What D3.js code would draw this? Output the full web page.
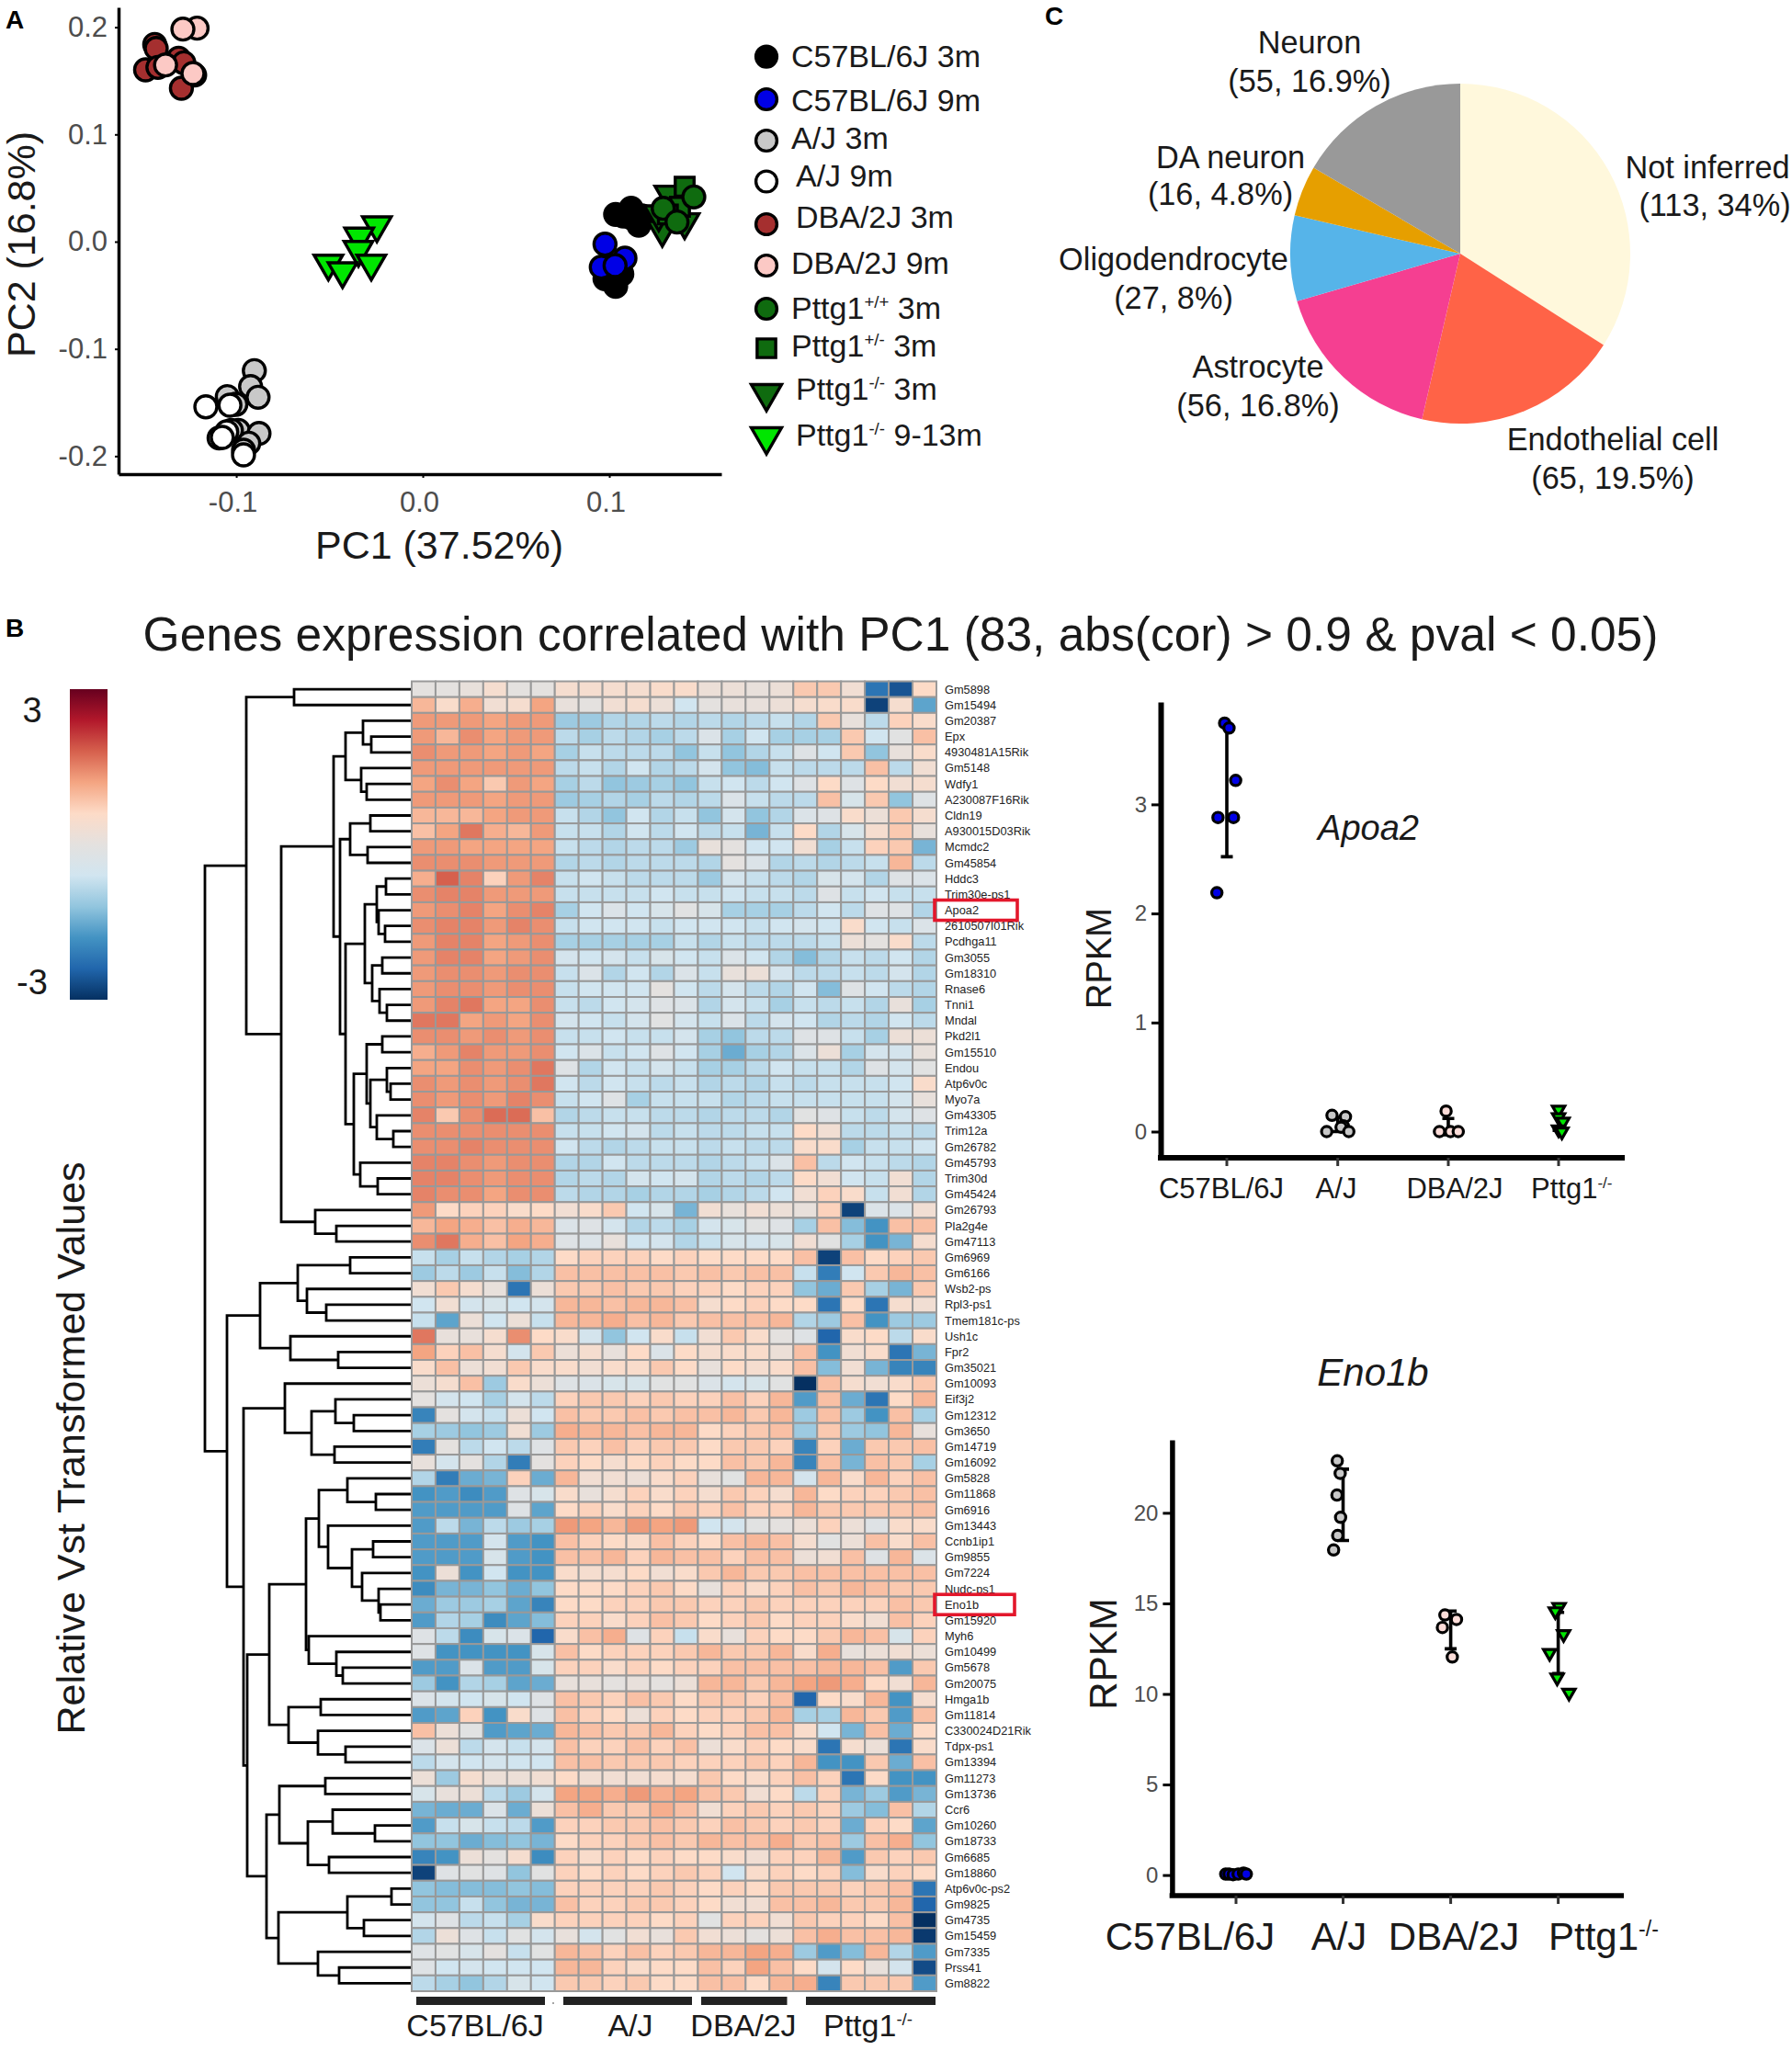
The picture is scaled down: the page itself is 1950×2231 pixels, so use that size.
<!DOCTYPE html>
<html>
<head>
<meta charset="utf-8">
<script src="https://cdn.jsdelivr.net/npm/d3@7"></script>
<style>
    html, body { margin: 0; padding: 0; background: #fff; }
    svg text { font-family: "Liberation Sans", Arial, sans-serif; fill: #1a1a1a; }
    .tick text { fill: #4d4d4d; }
</style>
</head>
<body>
<script>
// panel A: PCA points, one array per legend group
const groupNames = ['C57BL/6J 3m', 'C57BL/6J 9m', 'A/J 3m', 'A/J 9m', 'DBA/2J 3m', 'DBA/2J 9m', 'Pttg1|+/+| 3m', 'Pttg1|+/-| 3m', 'Pttg1|-/-| 3m', 'Pttg1|-/-| 9-13m'];
const groupFill = ['#000000', '#0000e6', '#c8c8c8', '#ffffff', '#a52f2f', '#fcc9c5', '#0f6b0f', '#0f6b0f', '#0f6b0f', '#00e600'];
const groupShape = ['c', 'c', 'c', 'c', 'c', 'c', 'c', 's', 't', 't'];
const pcaC57_3m = [[.1034, .0254], [.1075, .0240], [.1117, .0311], [.1117, .0225], [.1158, .0154], [.1174, .0240], [.0977, -.0345], [.1034, -.0417], [.1067, -.0302]];
const pcaC57_9m = [[.0977, -.0023], [.1084, -.0154], [.0957, -.0237], [.1031, -.0223]];
const pcaAJ_3m = [[-.0903, -.1203], [-.0923, -.1351], [-.0883, -.1451], [-.1048, -.1445], [-.1002, -.1517], [-.0989, -.1760], [-.1026, -.1760], [-.0878, -.1788], [-.0933, -.1880], [-.0961, -.1945]];
const pcaAJ_9m = [[-.1163, -.1540], [-.1034, -.1525], [-.1051, -.1774], [-.1092, -.1831], [-.1075, -.1825], [-.0961, -.1988]];
const pcaDBA_3m = [[-.1437, .1839], [-.1429, .1802], [-.1309, .1711], [-.1281, .1668], [-.1486, .1602], [-.1420, .1625], [-.1223, .1554], [-.1294, .1431]];
const pcaDBA_9m = [[-.1210, .1991], [-.1286, .1982], [-.1379, .1648], [-.1232, .1568]];
const pcaWT_3m = [[.1453, .0417], [.1289, .0311], [.1363, .0183]];
const pcaHet_3m = [[.1404, .0512], [.1379, .0326], [.1314, .0254]];
const pcaKO_3m = [[.1284, .0111], [.1322, .0440], [.1404, .0183], [.1265, .0257]];
const pcaKO_9m = [[-.0246, .0154], [-.0341, .0049], [-.0345, -.0075], [-.0506, -.0203], [-.0430, -.0274], [-.0276, -.0203]];
const pcaDrawOrder = [pcaC57_3m, pcaC57_9m, pcaAJ_3m, pcaAJ_9m, pcaDBA_3m, pcaDBA_9m, pcaKO_3m, pcaHet_3m, pcaWT_3m, pcaKO_9m];
const pcaDrawGroup = [0, 1, 2, 3, 4, 5, 8, 7, 6, 9];

// panel C: pie
const pieNames = ['Not inferred', 'Endothelial cell', 'Astrocyte', 'Oligodendrocyte', 'DA neuron', 'Neuron'];
const pieCounts = [113, 65, 56, 27, 16, 55];
const piePercent = ['34%', '19.5%', '16.8%', '8%', '4.8%', '16.9%'];
const pieColors = ['#fff8dc', '#ff6347', '#f53f91', '#56b4e9', '#e69f00', '#999999'];

// panel B: heatmap, values in tenths of a vst unit (-30..30)
const geneNames = ['Gm5898', 'Gm15494', 'Gm20387', 'Epx', '4930481A15Rik', 'Gm5148', 'Wdfy1', 'A230087F16Rik', 'Cldn19', 'A930015D03Rik', 'Mcmdc2', 'Gm45854', 'Hddc3', 'Trim30e-ps1', 'Apoa2', '2610507I01Rik', 'Pcdhga11', 'Gm3055', 'Gm18310', 'Rnase6', 'Tnni1', 'Mndal', 'Pkd2l1', 'Gm15510', 'Endou', 'Atp6v0c', 'Myo7a', 'Gm43305', 'Trim12a', 'Gm26782', 'Gm45793', 'Trim30d', 'Gm45424', 'Gm26793', 'Pla2g4e', 'Gm47113', 'Gm6969', 'Gm6166', 'Wsb2-ps', 'Rpl3-ps1', 'Tmem181c-ps', 'Ush1c', 'Fpr2', 'Gm35021', 'Gm10093', 'Eif3j2', 'Gm12312', 'Gm3650', 'Gm14719', 'Gm16092', 'Gm5828', 'Gm11868', 'Gm6916', 'Gm13443', 'Ccnb1ip1', 'Gm9855', 'Gm7224', 'Nudc-ps1', 'Eno1b', 'Gm15920', 'Myh6', 'Gm10499', 'Gm5678', 'Gm20075', 'Hmga1b', 'Gm11814', 'C330024D21Rik', 'Tdpx-ps1', 'Gm13394', 'Gm11273', 'Gm13736', 'Ccr6', 'Gm10260', 'Gm18733', 'Gm6685', 'Gm18860', 'Atp6v0c-ps2', 'Gm9825', 'Gm4735', 'Gm15459', 'Gm7335', 'Prss41', 'Gm8822'];
const heatRows = [
    [0, 0, 1, 4, 0, 0, 4, 4, 4, 4, 5, 5, 2, 2, 1, 2, 8, 8, 3, -22, -26, 6],
    [10, 5, 11, 3, 4, 12, 1, 0, 3, 4, 2, -6, 0, 1, 1, 2, 4, 5, 5, -28, 4, -16],
    [13, 13, 13, 12, 13, 13, -11, -11, -9, -9, -8, -9, -8, -9, -8, -7, -9, 8, 1, -8, 7, 5],
    [13, 10, 14, 12, 13, 13, -8, -10, -8, -9, -10, -8, -3, -10, -6, -10, -10, -10, 8, -6, -1, 9],
    [14, 13, 13, 12, 13, 12, -10, -7, -8, -8, -8, -12, -7, -12, -9, -7, -2, -6, 8, -12, 1, 5],
    [13, 13, 13, 13, 13, 13, -8, -7, -9, -6, -9, -8, -5, -12, -13, -7, -8, -8, -8, 9, -8, 3],
    [12, 14, 12, 8, 13, 12, -10, -8, -12, -11, -10, -12, -7, -6, -8, -6, -2, 6, -2, 6, 3, 4],
    [13, 13, 13, 12, 13, 13, -11, -10, -9, -10, -8, -9, -8, -3, -7, -8, -8, 9, -4, 8, -12, -2],
    [10, 10, 10, 12, 13, 13, -7, -9, -12, -6, -9, -7, -12, -5, -12, -9, -3, -2, 5, 2, 8, 4],
    [9, 12, 16, 11, 10, 13, -7, -7, -9, -6, -8, -6, -8, -7, -14, -7, 6, -9, -4, 4, 8, 1],
    [13, 13, 12, 12, 12, 12, -7, -8, -9, -8, -8, -11, 1, 0, -6, -6, 3, -10, -7, 7, 8, -14],
    [14, 14, 14, 13, 13, 13, -9, -8, -9, -8, -8, -8, -9, 0, -3, -9, -8, -9, -8, -7, 10, -8],
    [11, 18, 15, 7, 13, 15, -7, -6, -7, -8, -8, -8, -11, -5, -7, -8, -9, -4, -5, -9, -2, -3],
    [14, 15, 15, 13, 13, 13, -7, -7, -7, -7, -6, -7, -7, -6, -7, -7, -8, -2, -7, -6, -7, -7],
    [13, 14, 15, 12, 14, 15, -10, -6, -3, -6, -4, -1, -4, -10, -10, -10, -8, -6, -8, -2, -2, -9],
    [14, 15, 15, 13, 15, 14, -7, -6, -6, -6, -7, -6, -6, -6, -7, -6, -5, -6, 5, -6, -7, -3],
    [13, 15, 15, 12, 13, 14, -10, -10, -10, -10, -10, -7, -9, -7, -8, -8, -8, -7, 2, 0, 5, -8],
    [13, 15, 15, 12, 13, 14, -5, -6, -5, -7, -4, -6, -7, -3, -6, -9, -13, -9, -7, -8, -6, -9],
    [13, 14, 14, 13, 14, 14, -7, -3, -9, -6, -9, -3, -7, 1, 2, -5, -8, -8, -7, -8, -5, -9],
    [13, 14, 14, 13, 14, 14, -7, -6, -6, -6, 0, -6, -8, -5, -8, -9, -6, -13, -2, -6, -8, -9],
    [13, 15, 16, 12, 12, 14, -7, -8, -6, -5, -2, -3, -9, -5, -7, -10, -7, -8, -7, -9, 1, -10],
    [16, 16, 12, 13, 12, 14, -5, -6, -7, -5, -1, -5, -7, -3, -8, -5, -6, -9, -8, -9, -6, -8],
    [14, 14, 13, 14, 13, 14, -7, -7, -6, -7, -7, -5, -10, -12, -8, -8, -2, -2, -7, -10, 2, 2],
    [11, 13, 15, 13, 13, 14, -6, -3, -7, -6, -2, -6, -10, -15, -10, -9, -3, 2, -10, -5, -5, 1],
    [12, 12, 14, 13, 14, 16, -2, -9, -6, -7, -5, -7, -10, -10, -8, -6, -7, -7, -9, -2, -5, -1],
    [14, 13, 14, 13, 14, 16, -6, -8, -6, -7, -8, -7, -9, -8, -9, -7, -8, -7, -7, -7, -6, 5],
    [14, 13, 14, 13, 15, 14, -7, -6, -2, -10, -7, -7, -7, -9, -8, -7, -7, -7, -7, -7, -5, 1],
    [15, 8, 14, 17, 17, 9, -9, -8, -7, -7, -8, -8, -9, -8, -8, -9, -1, -2, -7, -8, -5, -2],
    [14, 14, 14, 14, 14, 14, -7, -7, -6, -5, -8, -7, -8, -8, -7, -7, 6, 3, -8, -8, -7, -8],
    [14, 14, 15, 14, 14, 14, -6, -8, -9, -8, -7, -7, -8, -7, -8, -8, 5, 5, -10, -7, -7, -6],
    [15, 15, 14, 13, 14, 14, -9, -9, -6, -8, -8, -8, -9, -8, -7, -3, 9, -8, -6, -7, -8, -9],
    [15, 15, 14, 13, 14, 14, -9, -8, -9, -5, -6, -5, -9, -8, -9, -8, 6, 3, -6, -7, 3, -9],
    [15, 14, 14, 12, 14, 14, -8, -9, -9, -10, -9, -9, -10, -9, -8, -6, 3, 7, 5, -7, 3, -9],
    [13, 6, 7, 7, 5, 6, 3, 5, 8, -6, -4, -14, 3, 1, 3, 2, 1, 7, -28, -3, -3, 3],
    [10, 12, 11, 9, 11, 10, -3, -2, -5, -9, -8, -10, -5, -4, -1, -2, -10, 9, -13, -18, 9, 9],
    [14, 16, 11, 9, 12, 11, -2, -3, 1, -6, -5, -9, -7, -4, -5, -4, 3, -1, -10, -18, -14, 4],
    [-7, -10, -7, -9, -10, -9, 6, 7, 7, 7, 6, 7, 6, 6, 6, 6, 9, -28, 9, 6, 7, 8],
    [-11, -8, -11, -7, -13, -9, 9, 9, 9, 9, 9, 8, 9, 8, 9, 9, -7, -21, -6, 8, 10, 9],
    [3, 8, 4, 1, -22, 2, 8, 8, 9, 8, 8, 7, 7, 6, 7, 7, -12, -15, 8, -10, -14, 8],
    [-6, 3, -5, -4, -6, -5, 10, 10, 9, 10, 10, 9, 4, 6, 7, 6, 6, -22, 6, -22, 4, 3],
    [-7, -16, 2, -6, 2, -7, 10, 10, 11, 9, 10, 8, 9, 9, 9, 10, -9, -11, 9, -18, -11, -11],
    [16, 1, 1, 4, 14, 6, 5, -5, -12, -6, 5, -7, 3, 8, 5, 0, -2, -24, 5, 6, -8, 5],
    [12, 7, 9, 4, -5, 8, 2, 4, 1, 6, -3, 6, 4, 5, 5, 2, 9, -18, 3, 5, -22, -14],
    [5, 9, 2, 3, 8, 5, 5, 3, 5, 5, 8, 6, 1, 6, 4, 5, 9, -13, 3, -14, -20, -20],
    [2, 4, 9, -11, 5, 2, -2, -3, -4, -4, -1, -1, -3, -5, -4, -1, -30, 9, 4, 3, 5, 8],
    [0, -5, -6, -10, -5, -8, 7, 8, 8, 7, 8, 7, 7, 9, 7, 10, -17, 9, -15, -22, 6, 10],
    [-20, 0, -5, -7, 2, -6, 9, 8, 8, 9, 8, 9, 9, 10, 8, 10, -11, 9, -11, -18, 9, -10],
    [-10, -11, -12, -11, 3, -11, 11, 10, 10, 9, 10, 10, 6, 7, 8, 9, -11, 8, -11, -12, 10, 1],
    [-21, 0, -8, -6, -8, -2, 8, 7, 9, 7, 8, 8, 6, 8, 8, 7, -20, 7, -15, 8, 8, 9],
    [1, -5, 0, -9, -21, 0, 7, 6, 4, 6, 7, 6, 6, 9, 8, 10, -20, 9, -14, 9, 8, -10],
    [-9, -21, -15, -14, 7, -15, 10, 3, 3, 2, 5, 7, 1, -1, 10, 10, -5, 10, 5, 10, 7, 9],
    [-18, -17, -19, -17, -2, -4, 5, 1, 4, 7, 5, 7, 4, 8, 7, 4, 10, 6, 7, 7, 8, 9],
    [-17, -17, -17, -17, -2, -16, 6, 7, 5, 7, 6, 8, 7, 9, 7, 7, 10, 8, 8, 8, 8, 9],
    [-17, -8, -14, -8, -11, -10, 13, 12, 10, 13, 12, 13, -6, -5, -1, 0, 2, 7, 2, -2, 5, 5],
    [-17, -17, -17, -5, -17, -18, 9, 7, 6, 5, 9, 7, 6, 9, 10, 9, 4, -1, 2, 9, 5, 9],
    [-17, -17, -17, -4, -17, -18, 9, 9, 10, 7, 10, 9, 9, 7, 9, 9, 2, 3, 9, -2, 10, -3],
    [-18, 2, -18, -6, -18, -18, 5, 4, 4, 6, 3, 5, 8, 10, 8, 8, 9, 9, 9, 9, 9, 9],
    [-19, -14, -14, -12, -15, -12, 6, 6, 6, 7, 8, 6, 1, 7, 5, 7, 9, 8, 10, 9, 8, 8],
    [-15, -11, -11, -10, -16, -20, 6, 6, 7, 7, 8, 8, 7, 7, 8, 7, 7, 7, 7, 7, 9, 8],
    [-17, -9, -10, -19, -16, -13, 7, 7, 5, 7, 9, 8, 6, 7, 8, 6, 7, 7, 5, 3, 9, 7],
    [-2, -8, -19, -4, -3, -24, 5, 9, 11, -2, 7, -7, 5, 1, 7, 6, 6, 8, 10, 9, -4, 7],
    [-2, -18, -18, -18, -18, -4, 9, 6, 7, 7, 7, 8, 10, 8, 8, 10, 5, 11, 1, 2, 3, 2],
    [-17, -17, -3, -17, -17, -4, 7, 7, 5, 7, 6, 7, 7, 9, 9, 9, 9, 10, 10, 9, -17, 8],
    [-11, -18, -9, -10, -16, -15, 1, 1, 0, 1, 0, 2, 10, 10, 8, 10, 12, 13, 11, 6, 3, 10],
    [-3, -5, -6, -4, -6, -2, 9, 8, 7, 9, 8, 6, 8, 8, 7, 9, -24, 6, 5, 10, -18, 4],
    [-17, -16, 7, -18, 5, -2, 9, 7, 6, 2, 7, 6, 7, 7, 8, 10, -10, -10, 10, 8, -17, 9],
    [9, 2, -1, -17, -16, -15, 10, 9, 8, 8, 10, 7, 6, 7, 9, 9, 5, -6, -14, 9, -15, 6],
    [-3, 2, -8, -5, -7, -5, 9, 7, 7, 9, 7, 9, 2, 5, 7, 6, 5, -22, 4, 2, -22, 5],
    [-8, -5, -6, -5, -6, -6, 9, 9, 8, 8, 8, 7, 7, 7, 8, 7, 10, -18, -18, 8, -15, 9],
    [2, -11, 4, 2, 2, 3, 6, 3, 3, 3, 4, 4, 8, 6, 5, 7, 9, 7, -22, 6, -18, -18],
    [-4, 1, 2, -8, -11, -5, 12, 12, 11, 13, 11, 12, 9, 8, 3, 6, -8, 7, -14, -11, -17, -14],
    [-14, -15, -15, -3, -15, 2, 9, 11, 8, 8, 11, 9, 3, 7, 8, 7, 8, 7, -11, -13, 9, -9],
    [-17, -7, -4, -7, -8, -17, 7, 7, 8, 8, 9, 8, 7, 9, 8, 7, 8, 7, -15, 7, 6, -16],
    [-12, -12, -15, -13, -12, -14, 6, 7, 7, 8, 9, 8, 10, 9, 9, 11, 8, 9, -11, 9, 11, -12],
    [-20, -18, 2, 0, 4, -19, 7, 5, 7, 6, 7, 6, 6, 5, 3, 7, 7, 10, -17, 8, 7, 8],
    [-28, -2, -1, -2, -12, -1, 7, 6, 7, 6, 7, 8, 7, -6, 5, 7, 6, 7, -13, 5, 7, 6],
    [-12, -13, -13, -13, -12, -13, 7, 7, 7, 7, 8, 7, 6, 7, 6, 8, 8, 8, 7, 8, 9, -22],
    [-12, -12, -7, -12, -14, -14, 9, 7, 7, 8, 8, 7, 6, 3, 3, 9, 9, 10, 8, 8, 10, -24],
    [-5, -2, -8, -7, -10, 5, 7, 7, 7, 7, 6, 7, -1, 7, 7, 3, 8, 7, 7, 6, 9, -30],
    [-9, 2, -2, -7, -1, -5, 1, -5, -1, 3, 1, 8, 3, 2, 0, 2, 9, 11, 9, 9, 10, -29],
    [-2, -1, -4, 0, -7, -1, 10, 9, 7, 9, 7, 8, 10, 10, 12, 11, -11, -17, -13, 10, -9, -17],
    [-2, -6, -5, -6, -6, -6, 10, 10, 7, 5, 6, 6, 9, 7, 12, 9, 6, -5, 6, 1, -5, -27],
    [-8, -10, -12, -9, -4, -6, 8, 8, 7, 8, 6, 6, 9, 9, 6, 10, 11, -20, 8, 8, 8, -17]
];
const heatStops = ['#053061', '#2166ac', '#4393c3', '#92c5de', '#d1e5f0', '#e4e1df', '#fddbc7', '#f4a582', '#d6604d', '#b2182b', '#67001f'];

// row dendrogram: [height, child, child], a leaf is the row index
const dendroUpper = [179, [127, 0, 1], [141,
    [84,
        [71, [52, 2, [43, 3, 4]], [54, 5, [48, 6, 7]]],
        [77,
            [66, [44, 8, 9], [47, 10, 11]],
            [71,
                [50,
                    [37, [27, 12, 13], [35, 14, [28, 15, 16]]],
                    [42, [31, 17, 18], [34, 19, [26, 20, 21]]]],
                [62,
                    [48, [31, 22, 23], [44, [26, 24, [22, 25, 26]], [37, 27, [19, 28, 29]]]],
                    [55, 30, [36, 31, 32]]]]]],
    [104, 33, [81, 34, 35]]]];
const dendroLower = [200,
    [164,
        [123, [66, 36, 37], [113, 38, [92, 39, 40]]],
        [131, 41, [79, 42, 43]]],
    [182,
        [137, 44, [108, [82, 45, [62, 46, 47]], [83, 48, 49]]],
        [178,
            [154,
                [114,
                    [100, [69, 50, [38, 51, 52]], [90, 53, [64, [41, 54, 55], [53, 56, [35, 57, [33, 58, 59]]]]]],
                    [111, 60, [81, 61, [74, 62, 63]]]],
                [133, [98, 64, 65], [101, 66, [71, 67, 68]]]],
            [157,
                [143, [93, 69, 70], [112, [85, 71, [39, 72, 73]], [89, 74, 75]]],
                [144, [69, [21, 76, 77], [51, 78, 79]], [101, 80, [78, 81, 82]]]]]]];
const dendroRoot = [224, dendroUpper, dendroLower];

// gene panels, x is the jitter around the group centre in group widths
const strainNames = ['C57BL/6J', 'A/J', 'DBA/2J', 'Pttg1|-/-|'];
const strainFill = ['#0000e6', '#c8c8c8', '#fcdcd8', '#00e600'];
const apoa2Points = [
    [[-.02, 3.745], [.02, 3.70], [.08, 3.22], [-.08, 2.88], [.06, 2.88], [-.09, 2.19]],
    [[-.052, .149], [.07, .136], [.05, .052], [-.1, 0], [.03, .04], [.1, 0]],
    [[-.02, .188], [-.08, 0], [.02, 0], [.09, 0]],
    [[0, .2], [0, .13], [.04, .09], [0, .02], [.03, 0]]
];
const apoa2Errors = [[2.52, 3.72], [0, .13], [-.03, .12], [.01, .16]];
const eno1bPoints = [
    [[-.096, .05], [-.065, .05], [-.027, .02], [.02, .05], [.07, .11], [.096, .05]],
    [[-.054, 22.87], [-.027, 22.18], [-.057, 20.98], [-.023, 19.75], [-.05, 18.75], [-.088, 17.95]],
    [[-.054, 14.36], [.054, 14.11], [-.077, 13.67], [.015, 12.04]],
    [[.008, 14.8], [-.027, 14.56], [.05, 13.3], [-.08, 12.26], [-.01, 10.9], [.1, 10.06]]
];
const eno1bErrors = [[0, .1], [18.47, 22.41], [12.49, 14.58], [11.13, 14.5]];

const svg = d3.select('body').append('svg')
    .attr('width', 1950)
    .attr('height', 2231);

const trianglePath = size => d3.symbol(d3.symbolTriangle, size)();
const squarePath = size => d3.symbol(d3.symbolSquare, size)();
// the figure has a plain hyphen in negative numbers
const hyphenFormat = f => d => d3.format(f)(d).replace('\u2212', '-');

function addMark(g, shape, x, y, fill, size, strokeWidth) {
    let el;
    if (shape === 'c') {
        el = g.append('circle').attr('cx', x).attr('cy', y).attr('r', Math.sqrt(size / Math.PI));
    } else if (shape === 's') {
        el = g.append('path').attr('d', squarePath(size)).attr('transform', `translate(${x},${y})`);
    } else {
        el = g.append('path').attr('d', trianglePath(size)).attr('transform', `translate(${x},${y}) rotate(180)`);
    }
    el.attr('fill', fill).attr('stroke', '#000').attr('stroke-width', strokeWidth);
}

// names like "Pttg1|-/-| 3m" carry a superscript between the bars
function addSuperText(sel, name, fontSize) {
    const parts = name.split('|');
    sel.append('tspan').text(parts[0]);
    if (parts.length > 1) {
        sel.append('tspan').text(parts[1])
            .attr('font-size', fontSize * 0.55)
            .attr('dy', -fontSize * 0.35);
        if (parts[2]) {
            sel.append('tspan').text(parts[2])
                .attr('dy', fontSize * 0.35);
        }
    }
}

function panelLabel(text, x, y) {
    svg.append('text').text(text)
        .attr('x', x).attr('y', y)
        .attr('font-size', 28)
        .attr('font-weight', 'bold')
        .style('fill', '#000');
}

panelLabel('A', 6, 31);
panelLabel('B', 6, 693);
panelLabel('C', 1137, 27);

drawPca();
drawPie();
drawHeatmap();
drawGenePanel({
    points: apoa2Points, errors: apoa2Errors, name: 'Apoa2',
    left: 1263, top: 764, bottom: 1260, right: 1768,
    y0: 1231.5, perUnit: 118.7, ticks: [0, 1, 2, 3],
    centers: [1335, 1455.7, 1576, 1696], step: 120.3,
    axisWidth: 6, tickFont: 24, capWidth: 13,
    labelFont: 31, labelY: 1304,
    labelX: [1329, 1454, 1583, 1666],
    geneX: 1489, geneY: 914, geneFont: 38,
    titleFont: 38, titleX: 1209, titleY: 1043,
    markSize: 100, triSize: 78, markStroke: 3.2
});
drawGenePanel({
    points: eno1bPoints, errors: eno1bErrors, name: 'Eno1b',
    left: 1275.4, top: 1567, bottom: 2063, right: 1767,
    y0: 2040.6, perUnit: 19.71, ticks: [0, 5, 10, 15, 20],
    centers: [1345, 1461.5, 1578.6, 1695.6], step: 117,
    axisWidth: 5.5, tickFont: 24, capWidth: 13,
    labelFont: 42, labelY: 2122,
    labelX: [1295, 1457, 1582, 1685],
    geneX: 1494, geneY: 1508, geneFont: 42,
    titleFont: 42, titleX: 1215, titleY: 1800,
    markSize: 100, triSize: 78, markStroke: 3.2
});

function drawPca() {
    const x = d3.scaleLinear().domain([-.1631, .1601]).range([129, 785]);
    const y = d3.scaleLinear().domain([-.2168, .2185]).range([516, 8]);
    const g = svg.append('g');

    const yAxis = g.append('g').attr('transform', 'translate(129,0)')
        .call(d3.axisLeft(y).tickValues([-.2, -.1, 0, .1, .2]).tickFormat(hyphenFormat('.1f')).tickSize(4).tickSizeOuter(0));
    const xAxis = g.append('g').attr('transform', 'translate(0,516)')
        .call(d3.axisBottom(x).tickValues([-.1, 0, .1]).tickFormat(hyphenFormat('.1f')).tickSize(4).tickSizeOuter(0));
    [yAxis, xAxis].forEach(a => {
        a.select('.domain').attr('stroke-width', 3.5).attr('stroke', '#000');
        a.selectAll('.tick line').attr('stroke-width', 2);
        a.selectAll('text').attr('font-size', 31).style('font-family', '"Liberation Sans"');
    });
    yAxis.selectAll('text').attr('x', -12);
    xAxis.selectAll('text').attr('y', 19).attr('x', -4);

    pcaDrawOrder.forEach((points, i) => {
        const group = pcaDrawGroup[i];
        points.forEach(p => {
            addMark(g, groupShape[group], x(p[0]), y(p[1]), groupFill[group], groupShape[group] === 'c' ? 450 : 420, 3.4);
        });
    });

    svg.append('text').text('PC1 (37.52%)')
        .attr('x', 478).attr('y', 608)
        .attr('text-anchor', 'middle').attr('font-size', 43);
    svg.append('text').text('PC2 (16.8%)')
        .attr('transform', 'translate(38,266) rotate(-90)')
        .attr('text-anchor', 'middle').attr('font-size', 43);

    // legend
    const legendSymbolY = [61.6, 108, 153, 197.5, 244, 289, 336, 379, 428, 475];
    const legendTextY = [73, 121, 162, 203, 248, 298, 347, 388, 435, 485];
    const legendTextX = [861, 861, 861, 866, 866, 861, 861, 861, 866, 866];
    groupNames.forEach((name, i) => {
        addMark(svg, groupShape[i], 834, legendSymbolY[i], groupFill[i], groupShape[i] === 't' ? 470 : 410, 3.4);
        const t = svg.append('text')
            .attr('x', legendTextX[i]).attr('y', legendTextY[i])
            .attr('font-size', 34);
        addSuperText(t, name, 34);
    });
}

function drawPie() {
    const arcs = d3.pie().sort(null)(pieCounts);
    const arc = d3.arc().innerRadius(0).outerRadius(185);
    svg.append('g').attr('transform', 'translate(1589,276)')
        .selectAll('path')
        .data(arcs)
        .enter()
        .append('path')
        .attr('d', arc)
        .attr('fill', (d, i) => pieColors[i]);

    const labelX = [1858, 1755, 1369, 1277, 1339, 1425];
    const valueX = [1866, 1755, 1369, 1277, 1328, 1425];
    const labelY = [194, 490, 411, 294, 183, 58];
    const valueY = [235, 532, 453, 336, 223, 100];
    pieNames.forEach((name, i) => {
        svg.append('text').text(name)
            .attr('x', labelX[i]).attr('y', labelY[i])
            .attr('text-anchor', 'middle').attr('font-size', 34.3);
        svg.append('text').text(`(${pieCounts[i]}, ${piePercent[i]})`)
            .attr('x', valueX[i]).attr('y', valueY[i])
            .attr('text-anchor', 'middle').attr('font-size', 34.3);
    });
}

function drawHeatmap() {
    svg.append('text').text('Genes expression correlated with PC1 (83, abs(cor) > 0.9 & pval < 0.05)')
        .attr('x', 980).attr('y', 708)
        .attr('text-anchor', 'middle').attr('font-size', 51.5);

    const color = d3.scaleLinear()
        .domain(d3.range(heatStops.length).map(i => -30 + i * 6))
        .range(heatStops);

    const x = d3.scaleBand().domain(d3.range(22)).range([448, 1019]);
    const y = d3.scaleBand().domain(d3.range(geneNames.length)).range([741.5, 2167]);

    const g = svg.append('g');
    heatRows.forEach((row, r) => {
        g.append('g').selectAll('rect')
            .data(row)
            .enter()
            .append('rect')
            .attr('x', (d, c) => x(c))
            .attr('y', y(r))
            .attr('width', x.bandwidth())
            .attr('height', y.bandwidth())
            .attr('fill', d => color(d))
            .attr('stroke', '#999')
            .attr('stroke-width', 2);
    });

    svg.append('g').selectAll('text')
        .data(geneNames)
        .enter()
        .append('text')
        .text(d => d)
        .attr('x', 1028)
        .attr('y', (d, i) => y(i) + y.bandwidth() / 2 + 4.5)
        .attr('font-size', 12.8)
        .style('fill', '#222');

    // red boxes around the two genes shown on the right
    [['Apoa2', 90], ['Eno1b', 87]].forEach(([gene, w]) => {
        const i = geneNames.indexOf(gene);
        svg.append('rect')
            .attr('x', 1017).attr('y', y(i) + y.bandwidth() / 2 - 11)
            .attr('width', w).attr('height', 22)
            .attr('fill', 'none').attr('stroke', '#e3172b').attr('stroke-width', 3.6);
    });

    drawDendrogram(y);
    drawColorbar();

    // strain bars under the heatmap
    const barStart = [453, 613, 763, 877];
    const barEnd = [593, 753, 856.5, 1018];
    const barLabelX = [517, 686, 809, 896];
    const barAnchor = ['middle', 'middle', 'middle', 'start'];
    strainNames.forEach((name, i) => {
        svg.append('rect')
            .attr('x', barStart[i]).attr('y', 2173)
            .attr('width', barEnd[i] - barStart[i]).attr('height', 9)
            .attr('fill', '#222');
        const t = svg.append('text')
            .attr('x', barLabelX[i]).attr('y', 2216)
            .attr('text-anchor', barAnchor[i])
            .attr('font-size', 34);
        addSuperText(t, name, 34);
    });
    svg.append('circle').attr('cx', 602).attr('cy', 2180).attr('r', 0.8).attr('fill', '#333');
}

function drawDendrogram(rowScale) {
    const hx = d3.scaleLinear().domain([0, 224]).range([447, 223]);
    const rowY = i => rowScale(i) + rowScale.bandwidth() / 2;
    const root = d3.hierarchy(dendroRoot, d => Array.isArray(d) ? d.slice(1) : null);

    root.eachAfter(node => {
        if (node.children) {
            node.h = node.data[0];
            node.py = d3.mean(node.children, c => c.py);
        } else {
            node.h = 0;
            node.py = rowY(node.data);
        }
    });

    const path = d3.path();
    root.each(node => {
        if (!node.children) return;
        const top = node.children[0];
        const bottom = node.children[1];
        path.moveTo(hx(top.h), top.py);
        path.lineTo(hx(node.h), top.py);
        path.lineTo(hx(node.h), bottom.py);
        path.lineTo(hx(bottom.h), bottom.py);
    });

    svg.append('path')
        .attr('d', path.toString())
        .attr('fill', 'none')
        .attr('stroke', '#000')
        .attr('stroke-width', 2.8);
}

function drawColorbar() {
    const defs = svg.append('defs');
    const grad = defs.append('linearGradient')
        .attr('id', 'heat-grad')
        .attr('x1', 0).attr('x2', 0).attr('y1', 1).attr('y2', 0);
    heatStops.forEach((c, i) => {
        grad.append('stop').attr('offset', i / (heatStops.length - 1)).attr('stop-color', c);
    });
    svg.append('rect')
        .attr('x', 76).attr('y', 750).attr('width', 41).attr('height', 338)
        .attr('fill', 'url(#heat-grad)');
    svg.append('text').text('3').attr('x', 35).attr('y', 786)
        .attr('text-anchor', 'middle').attr('font-size', 38);
    svg.append('text').text('-3').attr('x', 35).attr('y', 1082)
        .attr('text-anchor', 'middle').attr('font-size', 38);
    svg.append('text').text('Relative Vst Transformed Values')
        .attr('transform', 'translate(92,1576) rotate(-90)')
        .attr('text-anchor', 'middle').attr('font-size', 43);
}

function drawGenePanel(o) {
    const y = d3.scaleLinear()
        .domain([(o.y0 - o.bottom) / o.perUnit, (o.y0 - o.top) / o.perUnit])
        .range([o.bottom, o.top]);
    const g = svg.append('g');

    const yAxis = g.append('g').attr('transform', `translate(${o.left},0)`)
        .call(d3.axisLeft(y).tickValues(o.ticks).tickFormat(d3.format('d')).tickSize(10).tickSizeOuter(0));
    yAxis.select('.domain').attr('stroke-width', o.axisWidth).attr('stroke', '#000');
    yAxis.selectAll('.tick line').attr('stroke-width', 3);
    yAxis.selectAll('text').attr('font-size', o.tickFont).attr('x', -15).style('font-family', '"Liberation Sans"');

    // x axis line, scale is only the category positions
    const x = d3.scaleOrdinal().domain(d3.range(4)).range(o.centers);
    const xAxis = g.append('g').attr('transform', `translate(0,${o.bottom})`);
    xAxis.append('line')
        .attr('x1', o.left - o.axisWidth / 2).attr('x2', o.right)
        .attr('stroke', '#000').attr('stroke-width', o.axisWidth);
    xAxis.selectAll('.xtick')
        .data(d3.range(4))
        .enter()
        .append('line')
        .attr('class', 'xtick')
        .attr('x1', x).attr('x2', x)
        .attr('y1', 0).attr('y2', 9)
        .attr('stroke', '#333').attr('stroke-width', 3);

    strainNames.forEach((name, i) => {
        const cx = x(i);
        const [lo, hi] = o.errors[i];
        const capHalf = o.capWidth / 2;
        const bar = d3.path();
        bar.moveTo(cx, y(lo)); bar.lineTo(cx, y(hi));
        bar.moveTo(cx - capHalf, y(lo)); bar.lineTo(cx + capHalf, y(lo));
        bar.moveTo(cx - capHalf, y(hi)); bar.lineTo(cx + capHalf, y(hi));
        g.append('path').attr('d', bar.toString())
            .attr('fill', 'none').attr('stroke', '#000').attr('stroke-width', 3.6);

        const shape = i === 3 ? 't' : 'c';
        o.points[i].forEach(p => {
            addMark(g, shape, cx + p[0] * o.step, y(p[1]), strainFill[i], shape === 't' ? o.triSize : o.markSize, o.markStroke);
        });

        const t = svg.append('text')
            .attr('x', o.labelX[i]).attr('y', o.labelY)
            .attr('text-anchor', i === 3 ? 'start' : 'middle')
            .attr('font-size', o.labelFont);
        addSuperText(t, name, o.labelFont);
    });

    svg.append('text').text(o.name)
        .attr('x', o.geneX).attr('y', o.geneY)
        .attr('text-anchor', 'middle')
        .attr('font-style', 'italic')
        .attr('font-size', o.geneFont);
    svg.append('text').text('RPKM')
        .attr('transform', `translate(${o.titleX},${o.titleY}) rotate(-90)`)
        .attr('text-anchor', 'middle')
        .attr('font-size', o.titleFont);
}
</script>
</body>
</html>
